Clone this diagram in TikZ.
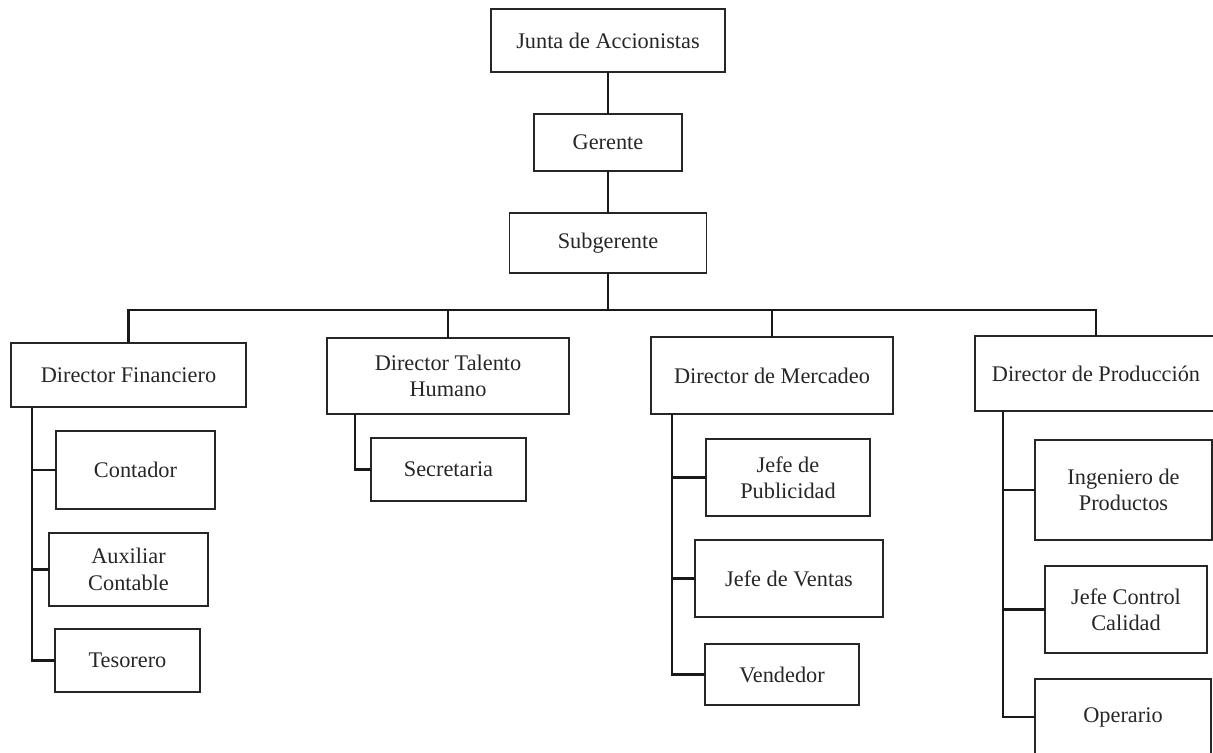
\documentclass[tikz,border=0pt]{standalone}
\usepackage{fontspec}
\setmainfont{Liberation Serif}
\begin{document}
\begin{tikzpicture}[x=0.02cm,y=-0.02cm,
  box/.style={draw=black!85, line width=0.8pt, inner sep=0pt, outer sep=0pt, align=center,
    font=\fontsize{12.7}{15}\selectfont, text=black!85},
  wh/.style 2 args={minimum width=#1*0.02cm, minimum height=#2*0.02cm},
  conn/.style={draw=black!90, line width=1.2pt}]
\useasboundingbox (0,0) rectangle (1213,753);
\clip (0,0) rectangle (1213,753);

% top chain
\node[box, wh={234}{63}] (junta) at (608,40.5) {Junta de Accionistas};
\node[box, wh={148}{57}] (gerente) at (608,142.5) {Gerente};
\node[box, wh={197}{60}] (subg) at (608,243) {Subgerente};

% directors
\node[box, wh={235}{64}] (dfin) at (128.5,375) {Director Financiero};
\node[box, wh={242}{76}] (dtal) at (448,376) {Director Talento\\Humano};
\node[box, wh={242}{77}] (dmer) at (772,375.5) {Director de Mercadeo};
\node[box, wh={242}{75}] (dpro) at (1096,373.5) {Director de Producción};

% finance
\node[box, wh={159}{78}] (contador) at (135.5,470) {Contador};
\node[box, wh={159}{73}] (auxiliar) at (128.5,569.5) {Auxiliar\\Contable};
\node[box, wh={145}{63}] (tesorero) at (127.5,660.5) {Tesorero};

% talento humano
\node[box, wh={155}{63}] (secretaria) at (448.5,469.5) {Secretaria};

% mercadeo
\node[box, wh={164}{77}] (publicidad) at (788,477.5) {Jefe de\\Publicidad};
\node[box, wh={188}{77}] (ventas) at (789,578.5) {Jefe de Ventas};
\node[box, wh={154}{61}] (vendedor) at (782,674.5) {Vendedor};

% produccion
\node[box, wh={177}{100}] (ingeniero) at (1123.5,490) {Ingeniero de\\Productos};
\node[box, wh={162}{87}] (calidad) at (1126,609.5) {Jefe Control\\Calidad};
\node[box, wh={176}{76}] (operario) at (1123,717) {Operario};

% connectors top
\draw[conn] (junta) -- (gerente);
\draw[conn] (gerente) -- (subg);
\coordinate (bus) at (608,310);
\draw[conn] (subg.south) -- (subg.south |- bus);
\draw[conn] (dfin.north) -- (dfin.north |- bus) -- (dpro.north |- bus) -- (dpro.north);
\draw[conn] (dtal.north) -- (dtal.north |- bus);
\draw[conn] (dmer.north) -- (dmer.north |- bus);

% trunk coordinates
\coordinate (tf) at (32,407);
\coordinate (tt) at (355,414);
\coordinate (tm) at (672,414);
\coordinate (tp) at (1003,411);

\draw[conn] (tf) |- (contador.west);
\draw[conn] (tf) |- (auxiliar.west);
\draw[conn] (tf) |- (tesorero.west);

\draw[conn] (tt) |- (secretaria.west);

\draw[conn] (tm) |- (publicidad.west);
\draw[conn] (tm) |- (ventas.west);
\draw[conn] (tm) |- (vendedor.west);

\draw[conn] (tp) |- (ingeniero.west);
\draw[conn] (tp) |- (calidad.west);
\draw[conn] (tp) |- (operario.west);
\end{tikzpicture}
\end{document}
